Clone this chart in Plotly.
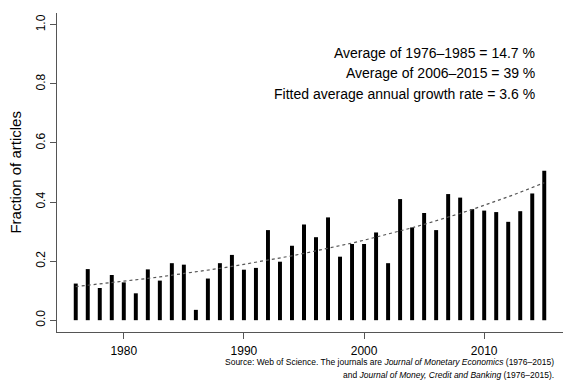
import numpy as np
import plotly.graph_objects as go

years = list(range(1976, 2016))
fraction = [0.124, 0.173, 0.109, 0.153, 0.128, 0.091, 0.172, 0.134, 0.193, 0.188,
            0.035, 0.141, 0.193, 0.221, 0.171, 0.177, 0.305, 0.198, 0.252, 0.324,
            0.281, 0.348, 0.215, 0.258, 0.258, 0.297, 0.193, 0.410, 0.314, 0.363,
            0.305, 0.427, 0.415, 0.376, 0.371, 0.366, 0.333, 0.369, 0.429, 0.506]
y_ticks = [0.0, 0.2, 0.4, 0.6, 0.8, 1.0]
x_ticks = [1980, 1990, 2000, 2010]
stats_text = ["Average of 1976\u20131985 = 14.7 %",
              "Average of 2006\u20132015 = 39 %",
              "Fitted average annual growth rate = 3.6 %"]

# exponential trend fitted to the data (log-linear least squares)
t = np.array(years, dtype=float) - years[0]
growth, log_a = np.polyfit(t, np.log(np.array(fraction)), 1)
fitted = np.exp(log_a) * np.exp(growth * t)

fig = go.Figure()
fig.add_trace(go.Bar(x=years, y=fraction, width=0.33,
                     marker=dict(color="black", line=dict(width=0)), showlegend=False))
fig.add_trace(go.Scatter(x=years, y=fitted, mode="lines",
                         line=dict(color="#555555", width=1.2, dash="3px,3px"), showlegend=False))

# the page body adds an 8px offset; positions below are window pixels minus that offset
OFF = 8
L, R, T, B = 57.3 - OFF, 562.7 - OFF, 13.2 - OFF, 332.5 - OFF
W, H = 576, 384
font = "Liberation Sans, Arial, Helvetica, sans-serif"
fig.update_layout(
    template="none",
    width=W, height=H,
    margin=dict(l=L, r=W - R, t=T, b=H - B, pad=0),
    paper_bgcolor="white", plot_bgcolor="white",
    font=dict(family=font, size=12, color="black"),
    xaxis=dict(range=[1974.44, 2016.56], tickvals=x_ticks, ticks="outside", ticklen=6,
               tickcolor="#555555", showline=True, linecolor="#555555", linewidth=1,
               showgrid=False, zeroline=False, tickfont=dict(size=12), automargin=False,
               ticklabelstandoff=2),
    yaxis=dict(range=[-0.04, 1.04], tickvals=y_ticks, ticktext=[f"{v:.1f}" for v in y_ticks],
               ticks="outside", ticklen=6, tickcolor="#555555", showline=True,
               linecolor="#555555", linewidth=1, showgrid=False, zeroline=False,
               tickangle=-90, tickfont=dict(size=12), automargin=False),
)


def px(x):
    return (x - OFF - L) / (R - L)


def py(y):
    return (B - (y - OFF)) / (B - T)


fig.add_annotation(text="Fraction of articles", textangle=-90, xref="paper", yref="paper",
                   x=px(15.5), y=py(172.8), xanchor="center", yanchor="middle", showarrow=False,
                   borderpad=0, font=dict(size=15))
for txt, yp in zip(stats_text, [53.3, 73.3, 94.0]):
    fig.add_annotation(text=txt, xref="paper", yref="paper", x=px(536.7), y=py(yp),
                       xanchor="right", yanchor="middle", showarrow=False, font=dict(size=14))
fig.add_annotation(text="Source: Web of Science. The journals are <i>Journal of Monetary Economics</i> (1976\u20132015)",
                   xref="paper", yref="paper", x=px(556), y=py(363), xanchor="right",
                   yanchor="middle", showarrow=False, font=dict(size=8.5))
fig.add_annotation(text="and <i>Journal of Money, Credit and Banking</i> (1976\u20132015).",
                   xref="paper", yref="paper", x=px(556), y=py(376), xanchor="right",
                   yanchor="middle", showarrow=False, font=dict(size=8.5))

fig.write_html("out.html")
